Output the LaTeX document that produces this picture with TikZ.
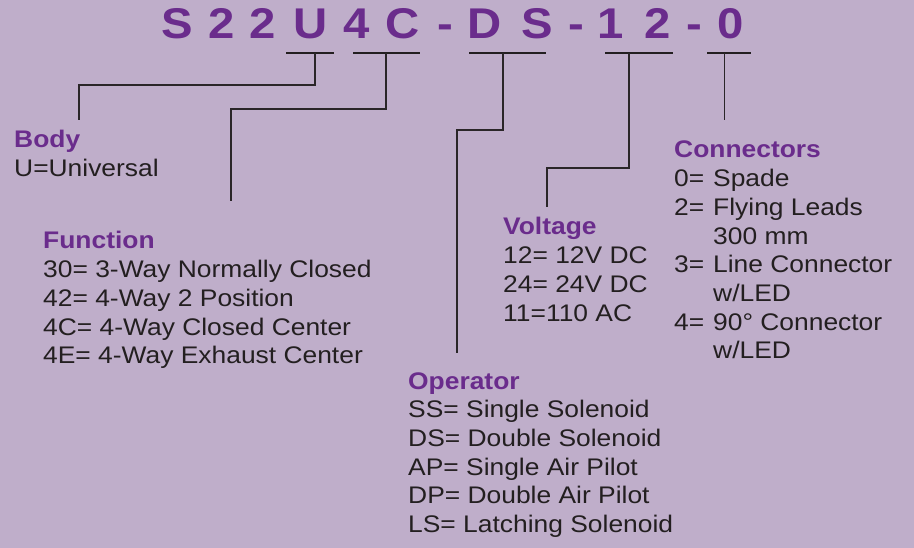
\documentclass[tikz,border=0pt]{standalone}
\usepackage{fontspec}
\setmainfont{Liberation Sans}[FakeStretch=1.1]
\usepackage{xcolor}
\definecolor{bg}{HTML}{BFAECA}
\definecolor{pur}{HTML}{6A2C8C}
\definecolor{ink}{HTML}{231F20}
\definecolor{wirec}{HTML}{2A2628}
\newcommand\hdg[1]{{\color{pur}\bfseries #1}}
\newcommand\num[1]{\makebox[39pt][l]{#1}}
\begin{document}
\begin{tikzpicture}[x=1pt,y=-1pt,
  tch/.style={font=\fontsize{43}{50}\selectfont\bfseries, text=pur, anchor=base, inner sep=0pt},
  blk/.style={anchor=base west, inner sep=0pt, text=ink, font=\fontsize{24}{28.7}\selectfont},
  uline/.style={draw=ink, line width=2.2pt},
  wire/.style={draw=wirec, line width=1.3pt}]
\fill[bg] (0,0) rectangle (914,548);
\useasboundingbox (0,0) rectangle (914,548);
% title characters
\node[tch] (t1) at (177,38.5) {S};
\node[tch] (t2) at (221.5,38.5) {2};
\node[tch] (t3) at (263,38.5) {2};
\node[tch] (t4) at (311,38.5) {U};
\node[tch] (t5) at (357,38.5) {4};
\node[tch] (t6) at (403,38.5) {C};
\node[tch] (t7) at (445,38.5) {-};
\node[tch] (t8) at (485,38.5) {D};
\node[tch] (t9) at (537,38.5) {S};
\node[tch] (t10) at (576,38.5) {-};
\node[tch] (t11) at (611,38.5) {1};
\node[tch] (t12) at (658,38.5) {2};
\node[tch] (t13) at (694,38.5) {-};
\node[tch] (t14) at (731,38.5) {0};
% underline end points and stems
\coordinate (u1a) at (286,53); \coordinate (u1b) at (334,53); \coordinate (s1) at (315,53);
\coordinate (u2a) at (353,53); \coordinate (u2b) at (420,53); \coordinate (s2) at (386,53);
\coordinate (u3a) at (469,53); \coordinate (u3b) at (546,53); \coordinate (s3) at (503,53);
\coordinate (u4a) at (605,53); \coordinate (u4b) at (673,53); \coordinate (s4) at (629,53);
\coordinate (u5a) at (707,53); \coordinate (u5b) at (751,53); \coordinate (s5) at (724.5,53);
\draw[uline] (u1a) -- (u1b);
\draw[uline] (u2a) -- (u2b);
\draw[uline] (u3a) -- (u3b);
\draw[uline] (u4a) -- (u4b);
\draw[uline] (u5a) -- (u5b);
% free ends of connectors
\coordinate (e1) at (79,120);
\coordinate (e2) at (231,201);
\coordinate (e3) at (457,353);
\coordinate (e4) at (547,207);
\coordinate (e5) at (724.5,120);
% text blocks
\node[blk] (body) at (14,148) {\begin{tabular}[t]{@{}l@{}}\hdg{Body}\\ U=Universal\end{tabular}};
\node[blk] (func) at (43,249) {\begin{tabular}[t]{@{}l@{}}\hdg{Function}\\
30= 3-Way Normally Closed\\
42= 4-Way 2 Position\\
4C= 4-Way Closed Center\\
4E= 4-Way Exhaust Center\end{tabular}};
\node[blk] (oper) at (408,389) {\begin{tabular}[t]{@{}l@{}}\hdg{Operator}\\
SS= Single Solenoid\\
DS= Double Solenoid\\
AP= Single Air Pilot\\
DP= Double Air Pilot\\
LS= Latching Solenoid\end{tabular}};
\node[blk] (volt) at (503,235) {\begin{tabular}[t]{@{}l@{}}\hdg{Voltage}\\
12= 12V DC\\
24= 24V DC\\
11=110 AC\end{tabular}};
\node[blk] (conn) at (674,158) {\begin{tabular}[t]{@{}l@{}}\hdg{Connectors}\\
\num{0=}Spade\\
\num{2=}Flying Leads\\
\num{}300 mm\\
\num{3=}Line Connector\\
\num{}w/LED\\
\num{4=}90° Connector\\
\num{}w/LED\end{tabular}};
% connectors
\draw[wire] (s1) -- ++(0,32) -| (e1);
\draw[wire] (s2) -- ++(0,56) -| (e2);
\draw[wire] (s3) -- ++(0,77) -| (e3);
\draw[wire] (s4) -- ++(0,115) -| (e4);
\draw[wire] (s5) -- (e5);
\end{tikzpicture}
\end{document}
